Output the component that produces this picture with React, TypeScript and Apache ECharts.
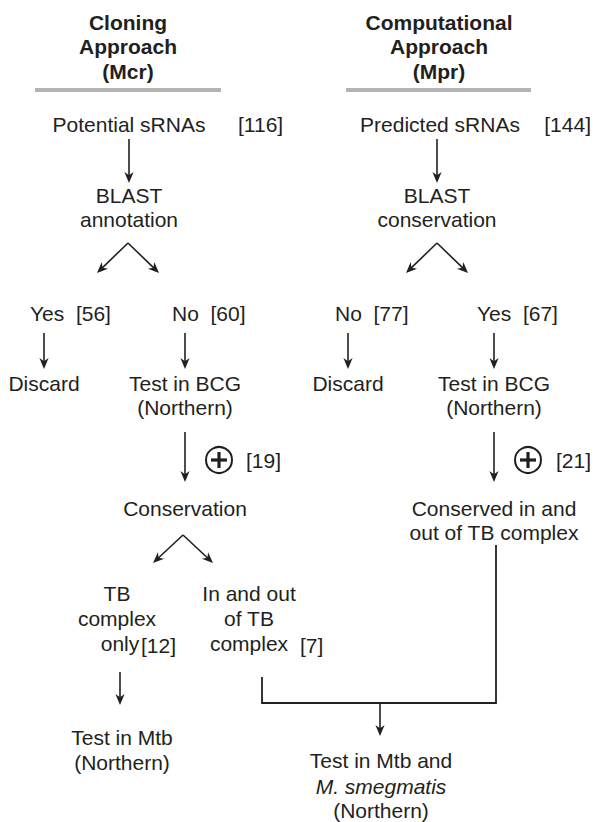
import React, { useEffect, useRef } from "react";
import * as echarts from "echarts";

// ---- content ----
const headerLeft = ["Cloning", "Approach", "(Mcr)"];
const headerRight = ["Computational", "Approach", "(Mpr)"];
const cloningCounts = [116, 56, 60, 19, 12, 7];
const computationalCounts = [144, 77, 67, 21];
const cloningSteps = ["Potential sRNAs", "BLAST", "annotation", "Yes", "No", "Discard", "Test in BCG", "(Northern)", "Conservation"];
const computationalSteps = ["Predicted sRNAs", "BLAST", "conservation", "No", "Yes", "Discard", "Test in BCG", "(Northern)", "Conserved in and", "out of TB complex"];
const branchTB = ["TB", "complex", "only"];
const branchInOut = ["In and out", "of TB", "complex"];
const finalLeft = ["Test in Mtb", "(Northern)"];
const finalRight = ["Test in Mtb and", "M. smegmatis", "(Northern)"];

const INK = "#231f20";
const FAM = "Liberation Sans";
const FS = 21;

function txt(text: string, x: number, y: number, extra: any = {}) {
  return {
    type: "text",
    x,
    y,
    silent: true,
    style: {
      text,
      fill: INK,
      fontFamily: FAM,
      fontSize: FS,
      align: "center",
      verticalAlign: "middle",
      ...extra,
    },
  };
}

function seg(x1: number, y1: number, x2: number, y2: number, w = 1.6, color = INK) {
  return {
    type: "line",
    silent: true,
    shape: { x1, y1, x2, y2 },
    style: { stroke: color, lineWidth: w },
  };
}

function arrow(x1: number, y1: number, x2: number, y2: number) {
  const dx = x2 - x1;
  const dy = y2 - y1;
  const len = Math.sqrt(dx * dx + dy * dy);
  const ux = dx / len;
  const uy = dy / len;
  const hl = 11;
  const hw = 4.6;
  const bx = x2 - ux * hl;
  const by = y2 - uy * hl;
  const px = -uy;
  const py = ux;
  return [
    seg(x1, y1, x2 - ux * hl * 0.6, y2 - uy * hl * 0.6, 1.6),
    {
      type: "polygon",
      silent: true,
      shape: {
        points: [
          [x2, y2],
          [bx + px * hw, by + py * hw],
          [x2 - ux * hl * 0.7, y2 - uy * hl * 0.7],
          [bx - px * hw, by - py * hw],
        ],
      },
      style: { fill: INK },
    },
  ];
}

function plus(cx: number, cy: number) {
  return [
    {
      type: "circle",
      silent: true,
      shape: { cx, cy, r: 13 },
      style: { fill: "none", stroke: INK, lineWidth: 2 },
    },
    seg(cx - 8, cy, cx + 8, cy, 3.2),
    seg(cx, cy - 8, cx, cy + 8, 3.2),
  ];
}

function buildGraphics() {
  const g: any[] = [];
  const L = 129; // left main column
  const R = 437; // right main column
  const bold = { fontWeight: "bold" };

  // headers
  const hy = [22, 46, 71];
  headerLeft.forEach((t, i) => g.push(txt(t, 128, hy[i], bold)));
  headerRight.forEach((t, i) => g.push(txt(t, 439, hy[i], bold)));
  g.push(seg(35, 90, 221, 90, 4, "#b3b3b3"));
  g.push(seg(346, 90, 531, 90, 4, "#b3b3b3"));

  // first row
  g.push(txt(cloningSteps[0], L, 124));
  g.push(txt(`[${cloningCounts[0]}]`, 238, 124, { align: "left" }));
  g.push(txt(computationalSteps[0], 440, 124));
  g.push(txt(`[${computationalCounts[0]}]`, 591, 124, { align: "right" }));
  g.push(...arrow(L, 139, L, 183));
  g.push(...arrow(R, 139, R, 183));

  // BLAST
  g.push(txt(cloningSteps[1], L, 195));
  g.push(txt(cloningSteps[2], L, 219));
  g.push(txt(computationalSteps[1], R, 195));
  g.push(txt(computationalSteps[2], R, 219));

  // chevrons
  g.push(...arrow(128, 243, 97, 273));
  g.push(...arrow(128, 243, 159, 273));
  g.push(...arrow(437, 243, 406, 273));
  g.push(...arrow(437, 243, 468, 273));

  // yes/no row
  const sp = "\u00a0\u00a0";
  g.push(txt(`${cloningSteps[3]}${sp}[${cloningCounts[1]}]`, 30, 313, { align: "left" }));
  g.push(txt(`${cloningSteps[4]}${sp}[${cloningCounts[2]}]`, 172, 313, { align: "left" }));
  g.push(txt(`${computationalSteps[3]}${sp}[${computationalCounts[1]}]`, 335, 313, { align: "left" }));
  g.push(txt(`${computationalSteps[4]}${sp}[${computationalCounts[2]}]`, 477, 313, { align: "left" }));

  const c1 = 44, c2 = 185, c3 = 348, c4 = 494;
  g.push(...arrow(c1, 333, c1, 369));
  g.push(...arrow(c2, 333, c2, 369));
  g.push(...arrow(c3, 333, c3, 369));
  g.push(...arrow(c4, 333, c4, 369));

  g.push(txt(cloningSteps[5], c1, 383));
  g.push(txt(cloningSteps[6], c2, 383));
  g.push(txt(cloningSteps[7], c2, 407));
  g.push(txt(computationalSteps[5], c3, 383));
  g.push(txt(computationalSteps[6], c4, 383));
  g.push(txt(computationalSteps[7], c4, 407));

  // positive arrows
  g.push(...arrow(c2, 432, c2, 482));
  g.push(...plus(c2 + 34, 460));
  g.push(txt(`[${cloningCounts[3]}]`, c2 + 61, 460, { align: "left" }));
  g.push(...arrow(c4, 432, c4, 482));
  g.push(...plus(c4 + 34, 460));
  g.push(txt(`[${computationalCounts[3]}]`, c4 + 62, 460, { align: "left" }));

  g.push(txt(cloningSteps[8], c2, 508));
  g.push(txt(computationalSteps[8], c4, 508));
  g.push(txt(computationalSteps[9], c4, 532));

  // conservation chevron
  g.push(...arrow(183, 535, 153, 563));
  g.push(...arrow(183, 535, 213, 563));

  // branches
  g.push(txt(branchTB[0], 117, 593));
  g.push(txt(branchTB[1], 117, 618));
  g.push(txt(branchTB[2], 120, 643));
  g.push(txt(`[${cloningCounts[4]}]`, 141, 645, { align: "left" }));
  g.push(txt(branchInOut[0], 249, 593));
  g.push(txt(branchInOut[1], 249, 618));
  g.push(txt(branchInOut[2], 249, 643));
  g.push(txt(`[${cloningCounts[5]}]`, 300, 645, { align: "left" }));

  // left final
  g.push(...arrow(120, 672, 120, 705));
  g.push(txt(finalLeft[0], 122, 737));
  g.push(txt(finalLeft[1], 122, 762));

  // bracket
  g.push(seg(262, 677, 262, 703, 1.8));
  g.push(seg(261.1, 703, 496.9, 703, 1.8));
  g.push(seg(496, 545, 496, 703, 1.8));
  g.push(...arrow(380, 703, 380, 736));

  g.push(txt(finalRight[0], 381, 760));
  g.push(txt(finalRight[1], 381, 786, { fontStyle: "italic" }));
  g.push(txt(finalRight[2], 381, 810));

  return g;
}

export default function App() {
  const ref = useRef<HTMLDivElement>(null);
  useEffect(() => {
    document.body.style.margin = "0";
    if (!ref.current) return;
    const chart = echarts.init(ref.current, undefined, { renderer: "svg" });
    chart.setOption({
      animation: false,
      backgroundColor: "#ffffff",
      graphic: { elements: buildGraphics() },
    });
    return () => chart.dispose();
  }, []);
  return <div ref={ref} style={{ width: 596, height: 822 }} />;
}
